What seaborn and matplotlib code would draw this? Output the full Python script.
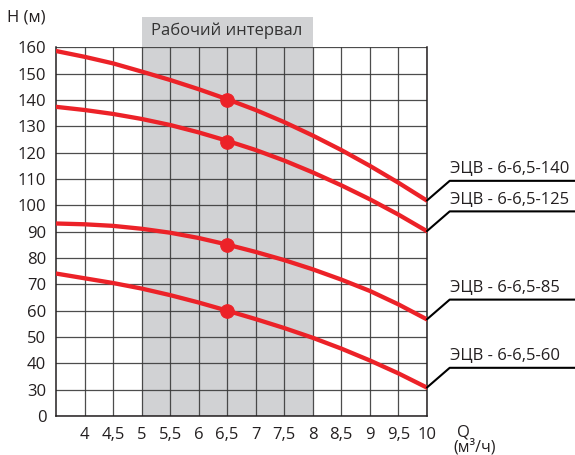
import numpy as np
import pandas as pd
import matplotlib
matplotlib.use("Agg")
import matplotlib.pyplot as plt
import seaborn as sns

# flow Q (m3/h) sampled every 0.5
q = [3.5, 4, 4.5, 5, 5.5, 6, 6.5, 7, 7.5, 8, 8.5, 9, 9.5, 10]

# head H (m) for each pump
h_140 = [158.6, 156.4, 153.9, 150.8, 147.6, 144.1, 140.3, 136.2, 131.6, 126.5, 121.0, 115.0, 108.6, 101.8]
h_125 = [137.4, 136.2, 134.7, 132.8, 130.5, 127.7, 124.5, 121.0, 117.0, 112.5, 107.6, 102.3, 96.5, 90.2]
h_85 = [93.1, 92.8, 92.2, 91.1, 89.6, 87.6, 85.1, 82.3, 79.2, 75.7, 71.8, 67.5, 62.4, 56.7]
h_60 = [74.1, 72.3, 70.5, 68.4, 65.9, 63.1, 60.0, 56.8, 53.4, 49.7, 45.6, 41.1, 36.2, 30.8]

models = ["ЭЦВ - 6-6,5-140", "ЭЦВ - 6-6,5-125", "ЭЦВ - 6-6,5-85", "ЭЦВ - 6-6,5-60"]
curves = [h_140, h_125, h_85, h_60]

# nominal point of each pump
q_nom = 6.5
h_nom = [140, 124, 85, 60]

# working range
work_lo, work_hi = 5, 8

x_ticks = [4, 4.5, 5, 5.5, 6, 6.5, 7, 7.5, 8, 8.5, 9, 9.5, 10]
y_ticks = [20, 30, 40, 50, 60, 70, 80, 90, 100, 110, 120, 130, 140, 150, 160]
y_labels = ["0", "30", "40", "50", "60", "70", "80", "90", "100", "110",
            "120", "130", "140", "150", "160"]

df = pd.DataFrame({
    "Q": np.tile(q, len(models)),
    "H": np.concatenate(curves),
    "model": np.repeat(models, len(q)),
})
dots = pd.DataFrame({"Q": [q_nom] * len(models), "H": h_nom})

sns.set_style("white")
plt.rcParams["font.family"] = ["Open Sans", "DejaVu Sans"]

red = "#ec2228"
ink = "#231f20"
fs = 12

fig = plt.figure(figsize=(5.75, 4.55), dpi=100)
ax = fig.add_axes([0.0974, 0.0857, 0.645, 0.8103])

# grey working interval, sticking out above the plot
ax.axvspan(work_lo, work_hi, ymin=0, ymax=1.082, color="#d1d2d4",
           zorder=0, clip_on=False, lw=0)
ax.text((work_lo + work_hi) / 2, 1.044, "Рабочий интервал",
        transform=ax.get_xaxis_transform(), ha="center", va="center",
        fontsize=fs, color="#333333")

sns.lineplot(data=df, x="Q", y="H", units="model", estimator=None,
             color=red, lw=3.1, ax=ax, zorder=3)
sns.scatterplot(data=dots, x="Q", y="H", color=red, s=95,
                edgecolor=red, ax=ax, zorder=4)

ax.set_xlim(3.5, 10)
ax.set_ylim(20, 160)
ax.set_xticks(x_ticks)
ax.set_xticklabels([f"{t:g}".replace(".", ",") for t in x_ticks])
ax.set_yticks(y_ticks)
ax.set_yticklabels(y_labels)
ax.tick_params(length=0, labelsize=fs, colors=ink)
ax.tick_params(axis="x", pad=8)
ax.tick_params(axis="y", pad=7)
ax.set_xlabel("")
ax.set_ylabel("")

ax.set_axisbelow(True)
ax.grid(True, color="#3a3a3a", lw=0.9, alpha=0.9)
for side in ["left", "bottom", "right"]:
    ax.spines[side].set_color(ink)
    ax.spines[side].set_linewidth(1.1)
ax.spines["top"].set_visible(False)

# leader lines and pump names on the right
for name, h in zip(models, curves):
    elbow = h[-1] + 7.5
    ax.plot([10, 10.4, 12.65], [h[-1], elbow, elbow], color="black",
            lw=1.5, clip_on=False, zorder=5)
    ax.annotate(name, (10.4, elbow), xytext=(0, 2.5), textcoords="offset points",
                ha="left", va="bottom", fontsize=fs, color=ink,
                annotation_clip=False)

fig.text(0.012, 0.962, "H (м)", ha="left", va="center", fontsize=fs, color=ink)
fig.text(0.795, 0.05, "Q", ha="left", va="center", fontsize=fs, color=ink)
fig.text(0.789, 0.017, "(м³/ч)", ha="left", va="center", fontsize=11.5, color=ink)

fig.savefig("out.png", dpi=100)
